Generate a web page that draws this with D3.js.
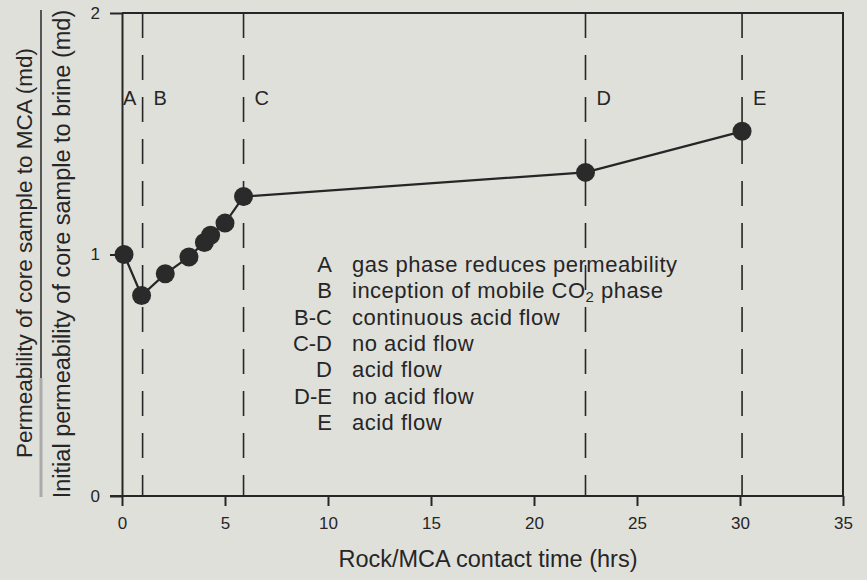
<!DOCTYPE html>
<html>
<head>
<meta charset="utf-8">
<script src="https://cdn.jsdelivr.net/npm/d3@7"></script>
<style>
  body { margin: 0; background: #e0e0db; }
  svg { display: block; font-family: "Liberation Sans", Arial, sans-serif; }
</style>
</head>
<body>
<svg width="867" height="580"></svg>
<script>
// contact time (hrs) vs permeability ratio
var timeHrs = [0.1, 0.95, 2.1, 3.25, 4.0, 4.3, 5.0, 5.9, 22.5, 30.1];
var permRatio = [1.0, 0.83, 0.92, 0.99, 1.05, 1.08, 1.13, 1.24, 1.34, 1.51];

// event markers (dashed lines)
var eventX = [1.0, 5.9, 22.5, 30.1];
var eventLabels = ["B", "C", "D", "E"];

var xTicks = [0, 5, 10, 15, 20, 25, 30, 35];
var yTicks = [0, 1, 2];

var legendCodes = ["A", "B", "B-C", "C-D", "D", "D-E", "E"];
var legendText = [
  "gas phase reduces permeability",
  "inception of mobile CO|2| phase",
  "continuous acid flow",
  "no acid flow",
  "acid flow",
  "no acid flow",
  "acid flow"
];

var svg = d3.select("svg"),
  ink = "#262626";

var x = d3.scaleLinear().domain([0, 35]).range([122, 843]);
var y = d3.scaleLinear().domain([0, 2]).range([496, 13]);

// frame top + right
svg.append("path")
  .attr("d", "M" + x(0) + "," + y(2) + "H" + x(35) + "V" + y(0))
  .attr("fill", "none")
  .attr("stroke", ink)
  .attr("stroke-width", 2);

// x axis
var gx = svg.append("g")
  .attr("transform", "translate(0," + y(0) + ")")
  .call(d3.axisBottom(x).tickValues(xTicks).tickSize(10).tickSizeOuter(0).tickPadding(11));
gx.select(".domain").attr("d", "M110,0H" + x(35));

// y axis
var gy = svg.append("g")
  .attr("transform", "translate(" + x(0) + ",0)")
  .call(d3.axisLeft(y).tickValues(yTicks).tickFormat(d3.format("d"))
    .tickSize(12).tickSizeOuter(0).tickPadding(10));

svg.selectAll(".domain, .tick line")
  .attr("stroke", ink)
  .attr("stroke-width", 2);
svg.selectAll(".tick text")
  .attr("fill", ink)
  .attr("font-size", 17)
  .attr("font-family", "Liberation Sans, Arial, sans-serif");

// dashed event lines
svg.selectAll("line.event")
  .data(eventX)
  .enter()
  .append("line")
  .attr("class", "event")
  .attr("x1", function (d) { return x(d); })
  .attr("x2", function (d) { return x(d); })
  .attr("y1", y(2))
  .attr("y2", y(0))
  .attr("stroke", ink)
  .attr("stroke-width", 1.6)
  .attr("stroke-dasharray", "25,17");

svg.selectAll("text.event")
  .data(eventLabels)
  .enter()
  .append("text")
  .attr("class", "event")
  .attr("x", function (d, i) { return x(eventX[i]) + 11; })
  .attr("y", 105)
  .attr("font-size", 20)
  .attr("fill", ink)
  .text(function (d) { return d; });

svg.append("text")
  .attr("x", x(0) + 1)
  .attr("y", 105)
  .attr("font-size", 20)
  .attr("fill", ink)
  .text("A");

// data line + markers
var pts = timeHrs.map(function (t, i) { return [t, permRatio[i]]; });

svg.append("path")
  .datum(pts)
  .attr("fill", "none")
  .attr("stroke", ink)
  .attr("stroke-width", 2.2)
  .attr("d", d3.line()
    .x(function (d) { return x(d[0]); })
    .y(function (d) { return y(d[1]); }));

svg.selectAll("circle")
  .data(pts)
  .enter()
  .append("circle")
  .attr("cx", function (d) { return x(d[0]); })
  .attr("cy", function (d) { return y(d[1]); })
  .attr("r", 9.5)
  .attr("fill", "#2a2a2a");

// legend
var leg = svg.append("g").attr("font-size", 22).attr("fill", ink);
legendCodes.forEach(function (c, i) {
  var yy = 272 + i * 26.3;
  leg.append("text")
    .attr("x", 332)
    .attr("y", yy)
    .attr("text-anchor", "end")
    .text(c);
  var t = leg.append("text")
    .attr("x", 352)
    .attr("y", yy)
    .attr("letter-spacing", 0.5);
  legendText[i].split("|").forEach(function (part, j) {
    var s = t.append("tspan").text(part);
    if (j === 1) s.attr("font-size", 15).attr("dy", 4);
    if (j === 2) s.attr("dy", -4);
  });
});

// axis titles
svg.append("text")
  .attr("x", 488)
  .attr("y", 567)
  .attr("text-anchor", "middle")
  .attr("font-size", 23.5)
  .attr("fill", ink)
  .text("Rock/MCA contact time (hrs)");

svg.append("text")
  .attr("transform", "translate(32,253) rotate(-90)")
  .attr("text-anchor", "middle")
  .attr("font-size", 22.5)
  .attr("fill", ink)
  .text("Permeability of core sample to MCA (md)");

svg.append("line")
  .attr("x1", 41).attr("x2", 41)
  .attr("y1", 10).attr("y2", 378)
  .attr("stroke", "#555")
  .attr("stroke-width", 2);
svg.append("line")
  .attr("x1", 41).attr("x2", 41)
  .attr("y1", 378).attr("y2", 497)
  .attr("stroke", "#aaa")
  .attr("stroke-width", 3);

svg.append("text")
  .attr("transform", "translate(70,254) rotate(-90)")
  .attr("text-anchor", "middle")
  .attr("font-size", 23.5)
  .attr("fill", ink)
  .text("Initial permeability of core sample to brine (md)");
</script>
</body>
</html>
